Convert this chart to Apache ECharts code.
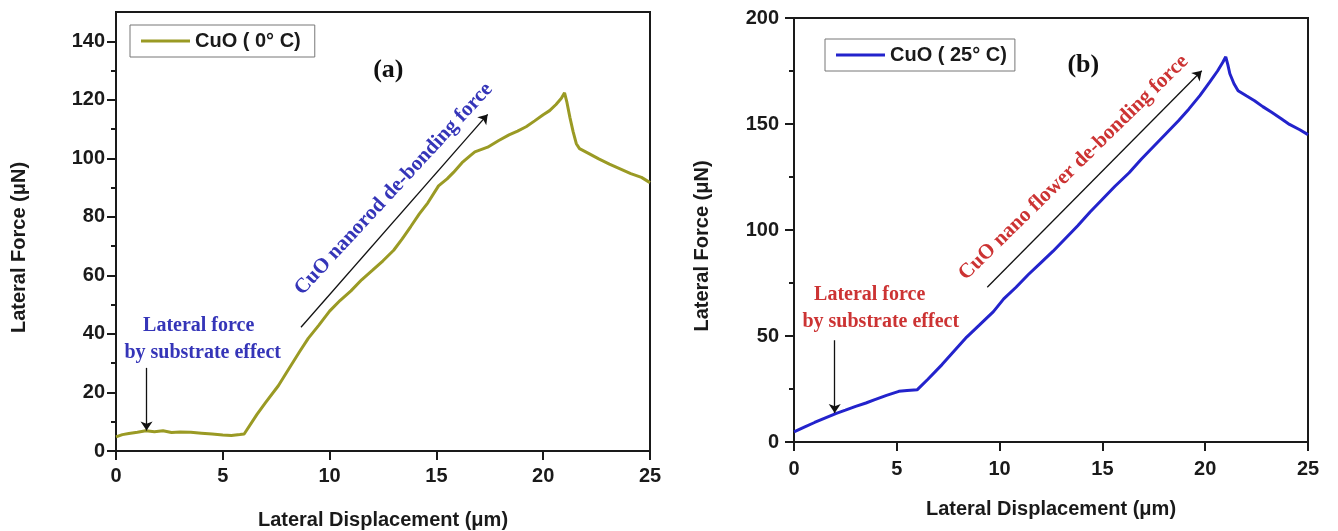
<!DOCTYPE html>
<html>
<head>
<meta charset="utf-8">
<script src="https://cdn.jsdelivr.net/npm/echarts@6/dist/echarts.min.js"></script>
<style>
html,body{margin:0;padding:0;background:#fff;}
#chart{width:1338px;height:531px;}
</style>
</head>
<body>
<div id="chart"></div>
<script>
// ---- Data ----
const seriesNameA = 'CuO ( 0° C)';
const seriesNameB = 'CuO ( 25° C)';
const xTitle = 'Lateral Displacement (μm)';
const yTitle = 'Lateral Force (μN)';
const xTicks = [0, 5, 10, 15, 20, 25];
const yTicksA = [0, 20, 40, 60, 80, 100, 120, 140];
const yTicksB = [0, 50, 100, 150, 200];

// Panel (a): [displacement μm, force μN]
const dataA = [
  [0,4.8],[0.3,5.6],[0.6,6.0],[1.0,6.4],[1.4,6.9],[1.8,6.6],[2.2,6.9],[2.6,6.3],[3.0,6.5],[3.5,6.4],
  [4.0,6.1],[4.5,5.8],[5.0,5.5],[5.4,5.3],[5.8,5.6],[6.0,5.8],[6.6,12.5],[7.0,16.5],[7.6,22.3],[8.0,27],
  [8.6,34],[9.0,38.5],[9.5,43],[10,47.8],[10.5,51.5],[11,54.7],[11.5,58.5],[12,61.7],[12.5,65],[13,68.6],
  [13.4,72.5],[13.8,76.7],[14.2,81],[14.6,84.8],[15.1,90.6],[15.5,93],[15.8,95.2],[16.2,98.5],[16.6,101],
  [16.8,102.2],[17.4,103.8],[17.9,106],[18.4,108],[18.8,109.3],[19.2,110.8],[19.6,112.8],[20,114.9],
  [20.3,116.3],[20.6,118.4],[20.85,120.5],[21,122.4],[21.1,119.5],[21.25,114],[21.4,109.1],[21.55,105],
  [21.7,103.3],[22.1,101.8],[22.6,99.8],[23.1,98],[23.6,96.4],[24.1,94.8],[24.6,93.5],[25,91.7]
];
// Panel (b)
const dataB = [
  [0,4.8],[0.5,7],[1,9.2],[1.5,11.3],[2.06,13.5],[2.5,15],[3,16.8],[3.5,18.4],[3.9,19.9],[4.5,22],
  [5.1,23.9],[5.5,24.3],[6.0,24.7],[6.5,29.5],[7.2,36.5],[7.8,43],[8.4,49.5],[9,55],[9.7,61.5],[10.2,67.5],
  [10.8,73],[11.4,79],[12,84.5],[12.6,90],[13.2,96],[13.8,102],[14.4,108.5],[15,114.5],[15.6,120.5],
  [16.3,127],[16.9,133.5],[17.5,139.5],[18.1,145.5],[18.7,151.5],[19.2,157],[19.75,163.5],[20.2,169.5],
  [20.6,175],[20.85,179],[21.0,181.7],[21.1,178],[21.2,173.7],[21.4,169],[21.6,165.7],[22,163.3],
  [22.4,161],[22.8,158.2],[23.25,155.4],[23.7,152.5],[24.1,149.8],[24.6,147.3],[25,145]
];

// Arrows in data coordinates [from, to]
const arrowsA = [ [[8.66,42.3],[17.4,115]], [[1.43,28.4],[1.43,7.0]] ];
const arrowsB = [ [[9.4,73],[19.83,175.1]], [[1.98,48],[1.98,13.7]] ];

// Text annotations in data coordinates
const notesA = [
  {text:'(a)', x:12.75, y:130, rot:0, size:26, color:'#111'},
  {text:'CuO nanorod de-bonding force', x:13.0, y:89.5, rot:47.2, size:21, color:'#3535b8'},
  {text:'Lateral force', x:3.87, y:42.7, rot:0, size:20, color:'#3535b8'},
  {text:'by substrate effect', x:4.06, y:33.6, rot:0, size:20, color:'#3535b8'}
];
const notesB = [
  {text:'(b)', x:14.07, y:177.7, rot:0, size:26, color:'#111'},
  {text:'CuO nano flower de-bonding force', x:13.6, y:129.4, rot:44.4, size:21, color:'#cc3333'},
  {text:'Lateral force', x:3.68, y:69.4, rot:0, size:20, color:'#cc3333'},
  {text:'by substrate effect', x:4.22, y:56.8, rot:0, size:20, color:'#cc3333'}
];

const axisColor = '#1a1a1a';
const sansBold = {fontFamily:'"Liberation Sans", Arial, sans-serif', fontWeight:'bold', color:axisColor};

function xAxisCfg(grid, gap, margin){
  return {
    type:'value', gridIndex:grid, min:0, max:25, interval:5,
    name:xTitle, nameLocation:'middle', nameGap:gap,
    nameTextStyle:Object.assign({fontSize:20}, sansBold),
    axisLine:{show:true, onZero:false, lineStyle:{color:axisColor, width:2}},
    axisTick:{show:true, inside:false, length:9, customValues:xTicks, lineStyle:{color:axisColor, width:2}},
    axisLabel:Object.assign({fontSize:20, margin:margin, customValues:xTicks}, sansBold),
    splitLine:{show:false}
  };
}
function yAxisCfg(grid, max, interval, ticks, gap, margin){
  return {
    type:'value', gridIndex:grid, min:0, max:max, interval:interval,
    name:yTitle, nameLocation:'middle', nameGap:gap, nameRotate:90,
    nameTextStyle:Object.assign({fontSize:20, padding:[0,32,0,0]}, sansBold),
    axisLine:{show:true, onZero:false, lineStyle:{color:axisColor, width:2}},
    axisTick:{show:true, inside:false, length:9, customValues:ticks, lineStyle:{color:axisColor, width:2}},
    minorTick:{show:true, splitNumber:2, length:5, lineStyle:{color:axisColor, width:2}},
    axisLabel:Object.assign({fontSize:20, margin:margin, customValues:ticks}, sansBold),
    splitLine:{show:false}, minorSplitLine:{show:false}
  };
}
function arrowMarks(arr){
  return {
    silent:true, symbol:['none','arrow'], symbolSize:9, animation:false,
    lineStyle:{color:'#111', width:1.3, type:'solid'},
    itemStyle:{color:'#111'},
    label:{show:false}, emphasis:{disabled:true},
    data: arr.map(a => [{coord:a[0]},{coord:a[1]}])
  };
}
function legendCfg(name, left, top, padR){
  return {
    data:[name], left:left, top:top, orient:'horizontal',
    icon:'rect', itemWidth:49, itemHeight:3, itemGap:0,
    padding:[6,padR,6,11],
    borderColor:'#777', borderWidth:1, borderRadius:0,
    textStyle:Object.assign({fontSize:20, padding:[0,0,0,0]}, sansBold)
  };
}

const chart = echarts.init(document.getElementById('chart'), null, {renderer:'canvas'});
chart.setOption({
  animation:false,
  backgroundColor:'#ffffff',
  grid:[
    {left:116, right:688, top:12, bottom:80, show:true, borderColor:axisColor, borderWidth:2,
     containLabel:false, outerBoundsMode:'none'},
    {left:794, right:30, top:18, bottom:89, show:true, borderColor:axisColor, borderWidth:2,
     containLabel:false, outerBoundsMode:'none'}
  ],
  xAxis:[ xAxisCfg(0, 59, 15), xAxisCfg(1, 57, 17) ],
  yAxis:[ yAxisCfg(0, 150, 20, yTicksA, 87, 11), yAxisCfg(1, 200, 50, yTicksB, 82, 15) ],
  legend:[ legendCfg(seriesNameA, 130, 25, 14), legendCfg(seriesNameB, 825, 39, 8) ],
  series:[
    {name:seriesNameA, type:'line', xAxisIndex:0, yAxisIndex:0, data:dataA, showSymbol:false, symbol:'none',
     lineStyle:{color:'#9a9a24', width:3}, itemStyle:{color:'#9a9a24'}, markLine:arrowMarks(arrowsA)},
    {name:seriesNameB, type:'line', xAxisIndex:1, yAxisIndex:1, data:dataB, showSymbol:false, symbol:'none',
     lineStyle:{color:'#2323cc', width:3}, itemStyle:{color:'#2323cc'}, markLine:arrowMarks(arrowsB)}
  ]
});

function noteGraphics(notes, gridIndex){
  return notes.map(n => {
    const p = chart.convertToPixel({gridIndex:gridIndex}, [n.x, n.y]);
    return {
      type:'text', x:p[0], y:p[1], rotation:n.rot*Math.PI/180, silent:true,
      style:{text:n.text, fill:n.color, align:'center', verticalAlign:'middle',
             font:'bold ' + n.size + 'px "Liberation Serif", "Times New Roman", serif'}
    };
  });
}
chart.setOption({graphic: noteGraphics(notesA,0).concat(noteGraphics(notesB,1))});
</script>
</body>
</html>
